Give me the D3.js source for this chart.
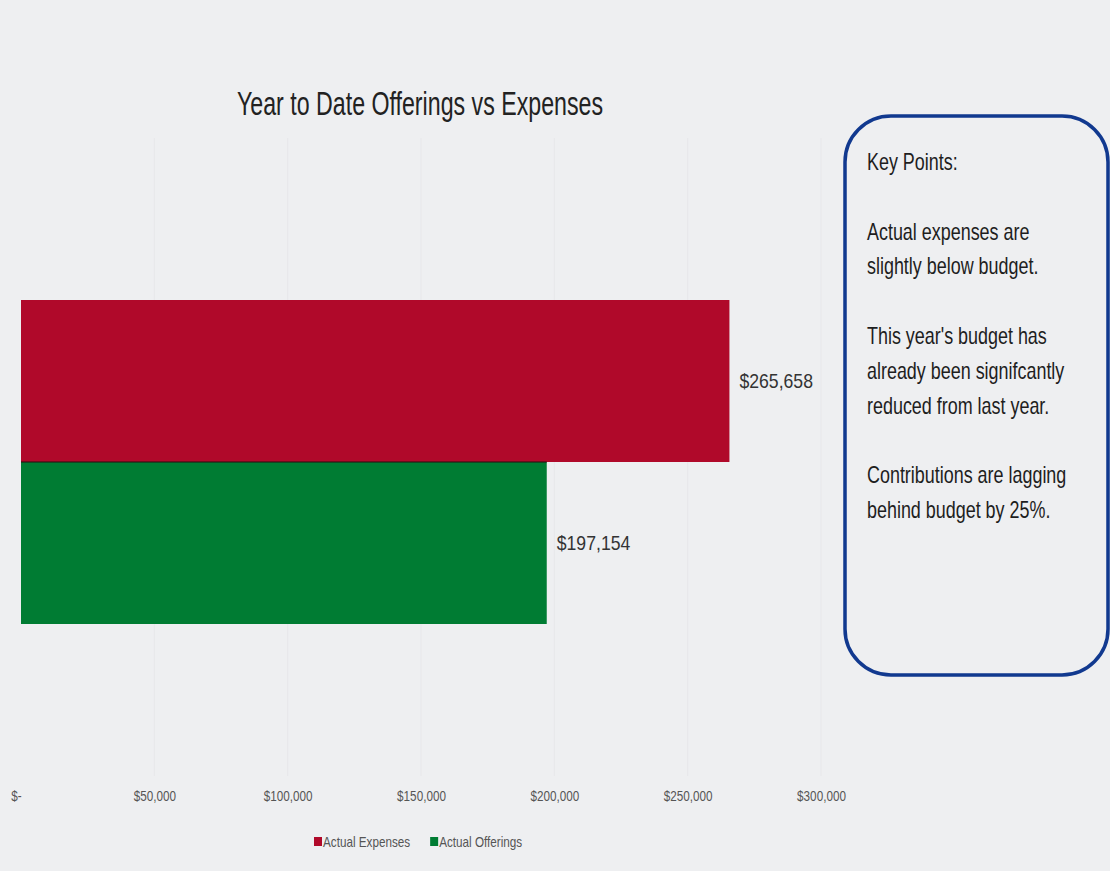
<!DOCTYPE html>
<html lang="en">
<head>
    <meta charset="UTF-8">
    <script src="https://d3js.org/d3.v7.min.js"></script>
    <style>
        body, html {
            width: 100%;
            height: 100%;
            margin: 0;
            overflow: hidden;
            background: #eeeff1;
            font-family: "Liberation Sans", Arial, sans-serif;
        }
        .tick text {
            font-size: 15px;
            fill: #555;
        }
        .label {
            font-size: 21px;
            fill: #333;
        }
    </style>
</head>
<body>
    <div id="chart"></div>

    <script>
        // data
        const categories = ["Actual Expenses", "Actual Offerings"];
        const values = [265658, 197154];
        const colors = ["#b0092a", "#007c33"];
        const xTicks = [0, 50000, 100000, 150000, 200000, 250000, 300000];
        const keyPoints = [
            "Key Points:",
            "",
            "Actual expenses are",
            "slightly below budget.",
            "",
            "This year's budget has",
            "already been signifcantly",
            "reduced from last year.",
            "",
            "Contributions are lagging",
            "behind budget by 25%."
        ];

        const W = 1110, H = 871;
        const plot = {left: 21, right: 821, top: 138, bottom: 786};

        // the original uses a narrow face; squeeze the text horizontally
        function squeeze(sel, ratio) {
            sel.each(function() {
                const w = this.getComputedTextLength();
                if (w > 0) {
                    d3.select(this)
                        .attr("textLength", w * ratio)
                        .attr("lengthAdjust", "spacingAndGlyphs");
                }
            });
        }

        const svg = d3.select("#chart")
            .append("svg")
            .attr("width", W)
            .attr("height", H);

        const x = d3.scaleLinear()
            .domain([0, 300000])
            .range([plot.left, plot.right]);

        const y = d3.scaleBand()
            .domain(categories)
            .range([plot.top, plot.bottom])
            .paddingInner(0)
            .paddingOuter(1);

        // faint gridlines
        svg.append("g")
            .selectAll("line")
            .data(xTicks.slice(1))
            .enter()
            .append("line")
            .attr("x1", d => x(d))
            .attr("x2", d => x(d))
            .attr("y1", plot.top)
            .attr("y2", plot.bottom - 10)
            .attr("stroke", "#e7e7ea")
            .attr("stroke-width", 1);

        // title
        svg.append("text")
            .attr("x", 420)
            .attr("y", 115)
            .attr("text-anchor", "middle")
            .style("font-size", "34px")
            .style("fill", "#222")
            .attr("textLength", 366)
            .attr("lengthAdjust", "spacingAndGlyphs")
            .text("Year to Date Offerings vs Expenses");

        // bars
        svg.selectAll(".bar")
            .data(values)
            .enter()
            .append("rect")
            .attr("class", "bar")
            .attr("x", x(0))
            .attr("y", (d, i) => y(categories[i]))
            .attr("width", d => x(d) - x(0))
            .attr("height", y.bandwidth())
            .attr("fill", (d, i) => colors[i]);

        svg.append("line")
            .attr("x1", x(0))
            .attr("x2", x(values[1]))
            .attr("y1", y(categories[1]))
            .attr("y2", y(categories[1]))
            .attr("stroke", "#2a1010")
            .attr("stroke-width", 1.5)
            .attr("opacity", 0.7);

        svg.selectAll(".label")
            .data(values)
            .enter()
            .append("text")
            .attr("class", "label")
            .attr("x", d => x(d) + 10)
            .attr("y", (d, i) => y(categories[i]) + y.bandwidth() / 2)
            .attr("dy", "0.35em")
            .text(d => d3.format("$,")(d))
            .call(squeeze, 0.84);

        // x axis (labels only)
        const axis = svg.append("g")
            .attr("transform", `translate(0,${plot.bottom})`)
            .call(d3.axisBottom(x)
                .tickValues(xTicks)
                .tickSize(0)
                .tickPadding(4)
                .tickFormat(d => d === 0 ? "$-" : d3.format("$,")(d)));
        axis.select(".domain").remove();
        axis.selectAll(".tick text").call(squeeze, 0.78);
        axis.selectAll(".tick text")
            .filter(d => d === 0)
            .attr("dx", "-5");

        // legend
        const legend = svg.append("g").attr("transform", "translate(314,842)");
        let lx = 0;
        categories.forEach((c, i) => {
            const g = legend.append("g").attr("transform", `translate(${lx},0)`);
            g.append("rect")
                .attr("x", 0).attr("y", -5)
                .attr("width", 8).attr("height", 9)
                .attr("fill", colors[i]);
            const t = g.append("text")
                .attr("x", 9).attr("y", 0)
                .attr("dy", "0.35em")
                .style("font-size", "15px")
                .style("fill", "#555")
                .text(c)
                .call(squeeze, 0.78);
            lx += 9 + +t.attr("textLength") + 20;
        });

        // key points box
        svg.append("rect")
            .attr("x", 845)
            .attr("y", 116)
            .attr("width", 263)
            .attr("height", 559)
            .attr("rx", 46)
            .attr("fill", "none")
            .attr("stroke", "#11398f")
            .attr("stroke-width", 3.5);

        // narrow the note text with a group scale
        svg.append("g")
            .attr("transform", "translate(867,0) scale(0.78,1)")
            .selectAll("text")
            .data(keyPoints)
            .enter()
            .append("text")
            .attr("x", 0)
            .attr("y", (d, i) => 170 + i * 34.8)
            .style("font-size", "23px")
            .style("fill", "#1e1e1e")
            .text(d => d);
    </script>
</body>
</html>
